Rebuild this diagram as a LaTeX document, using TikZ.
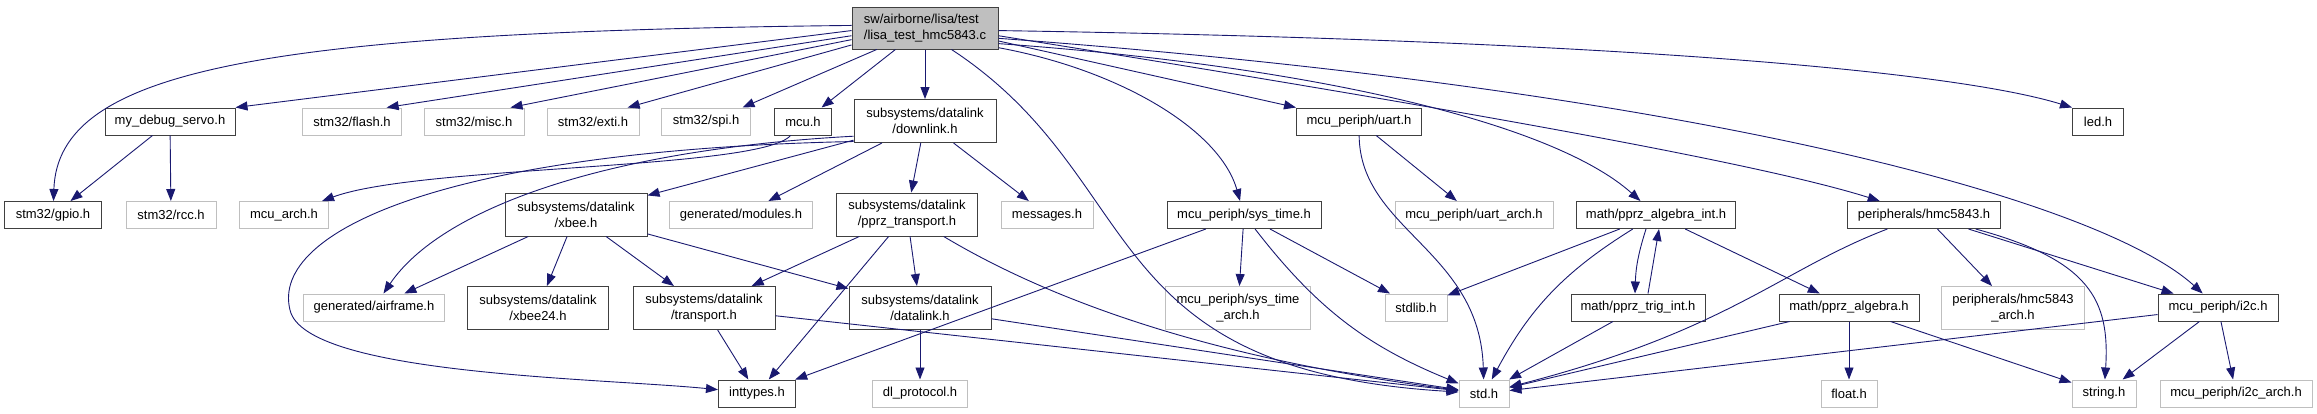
\documentclass[tikz,border=0pt]{standalone}
\usepackage{fontspec}
\setmainfont{Liberation Sans}
\usetikzlibrary{arrows.meta}
\tikzset{>={Triangle[length=12pt,width=9pt]}}
\definecolor{edgeblue}{HTML}{191970}
\definecolor{docline}{HTML}{404040}
\definecolor{extline}{HTML}{BFBFBF}
\definecolor{rootfill}{HTML}{BFBFBF}
\tikzset{
  file/.style={rectangle, line width=1pt, minimum height=27pt, inner xsep=4pt, inner ysep=2pt,
    font=\fontsize{13}{16}\selectfont, align=center},
  doc/.style={file, draw=docline},
  ext/.style={file, draw=extline},
  tall/.style={minimum height=43pt},
  inc/.style={->, edgeblue, line width=0.9pt},
}

\begin{document}
\begin{tikzpicture}[x=1pt,y=-1pt]
  \useasboundingbox (0,0) rectangle (2317,413);

  % root file
  \node[doc, fill=rootfill, align=left, minimum width=146pt, minimum height=42pt] (root) at (925,28) {sw/airborne/lisa/test\\/lisa\_test\_hmc5843.c};

  % first level
  \node[doc, minimum width=130pt] (myservo) at (170,121.5) {my\_debug\_servo.h};
  \node[ext, minimum width=99pt] (flash) at (352,121.5) {stm32/flash.h};
  \node[ext, minimum width=100pt] (misc) at (474,121.5) {stm32/misc.h};
  \node[ext, minimum width=92pt] (exti) at (593,121.5) {stm32/exti.h};
  \node[ext, minimum width=89pt] (spi) at (706,121.5) {stm32/spi.h};
  \node[doc, minimum width=57pt] (mcu) at (803,121.5) {mcu.h};
  \node[doc, tall, minimum width=142pt] (downlink) at (925,121) {subsystems/datalink\\/downlink.h};
  \node[doc, minimum width=125pt] (uart) at (1359,121.5) {mcu\_periph/uart.h};
  \node[doc, minimum width=51pt] (led) at (2098,121.5) {led.h};

  % second level
  \node[doc, minimum width=97pt] (gpio) at (53,215) {stm32/gpio.h};
  \node[ext, minimum width=90pt] (rcc) at (171,215) {stm32/rcc.h};
  \node[ext, minimum width=89pt] (mcuarch) at (284,215) {mcu\_arch.h};
  \node[doc, tall, minimum width=142pt] (xbee) at (576,214.5) {subsystems/datalink\\/xbee.h};
  \node[ext, minimum width=143pt] (modules) at (741,215) {generated/modules.h};
  \node[doc, tall, minimum width=141pt] (pprztrans) at (907,214.5) {subsystems/datalink\\/pprz\_transport.h};
  \node[ext, minimum width=92pt] (messages) at (1047,215) {messages.h};
  \node[doc, minimum width=154pt] (systime) at (1244,215) {mcu\_periph/sys\_time.h};
  \node[ext, minimum width=158pt] (uartarch) at (1474,215) {mcu\_periph/uart\_arch.h};
  \node[doc, minimum width=159pt] (algint) at (1656,215) {math/pprz\_algebra\_int.h};
  \node[doc, minimum width=153pt] (hmc) at (1924,215) {peripherals/hmc5843.h};

  % third level
  \node[ext, minimum width=141pt] (airframe) at (374,307.5) {generated/airframe.h};
  \node[doc, tall, minimum width=141pt] (xbee24) at (538,308) {subsystems/datalink\\/xbee24.h};
  \node[doc, tall, minimum width=142pt] (transport) at (704,308) {subsystems/datalink\\/transport.h};
  \node[doc, tall, minimum width=142pt] (datalink) at (920,308) {subsystems/datalink\\/datalink.h};
  \node[ext, tall, minimum width=145pt] (systimearch) at (1238,308) {mcu\_periph/sys\_time\\\_arch.h};
  \node[ext, minimum width=62pt] (stdlib) at (1416,307.5) {stdlib.h};
  \node[doc, minimum width=134pt] (trigint) at (1638,307.5) {math/pprz\_trig\_int.h};
  \node[doc, minimum width=140pt] (algebra) at (1849,307.5) {math/pprz\_algebra.h};
  \node[ext, tall, minimum width=143pt] (hmcarch) at (2013,308) {peripherals/hmc5843\\\_arch.h};
  \node[doc, minimum width=120pt] (i2c) at (2218,307.5) {mcu\_periph/i2c.h};

  % fourth level
  \node[doc, minimum width=77pt] (inttypes) at (757,393.5) {inttypes.h};
  \node[ext, minimum width=95pt] (dlproto) at (920,393.5) {dl\_protocol.h};
  \node[ext, minimum width=50pt] (std) at (1484,393.5) {std.h};
  \node[ext, minimum width=56pt] (float) at (1849,393.5) {float.h};
  \node[ext, minimum width=64pt] (string) at (2104,393.5) {string.h};
  \node[ext, minimum width=152pt] (i2carch) at (2236,393.5) {mcu\_periph/i2c\_arch.h};

  % includes of the root file
  \draw[inc] (root.178) .. controls (260,32) and (58,70) .. (gpio);
  \draw[inc] (root.182) -- (myservo.north east);
  \draw[inc] (root.186) -- (flash.22);
  \draw[inc] (root.189) -- (misc.21);
  \draw[inc] (root.193) -- (exti.22);
  \draw[inc] (root.204) -- (spi.21);
  \draw[inc] (root.216) -- (mcu.37);
  \draw[inc] (root.south) -- (downlink.north);
  \draw[inc] (root.-39) .. controls (1150,180) and (1090,370) .. (std);
  \draw[inc] (root.-15) .. controls (1120,70) and (1220,130) .. (systime);
  \draw[inc] (root.-10) -- (uart.north west);
  \draw[inc] (root.-12) .. controls (1300,65) and (1550,120) .. (algint);
  \draw[inc] (root.-6) .. controls (1400,100) and (1750,160) .. (hmc);
  \draw[inc] (root.-8) .. controls (1700,90) and (2100,200) .. (i2c);
  \draw[inc] (root.-2) .. controls (1600,40) and (1950,70) .. (led.north west);

  % first level includes
  \draw[inc] (myservo) -- (gpio);
  \draw[inc] (myservo) -- (rcc);
  \draw[inc] (mcu) .. controls (760,170) and (420,165) .. (mcuarch);
  \draw[inc] (downlink.192) .. controls (600,150) and (440,210) .. (airframe);
  \draw[inc] (downlink.196) .. controls (450,150) and (270,230) .. (290,310)
    .. controls (305,375) and (600,378) .. (inttypes);
  \draw[inc] (downlink) -- (xbee);
  \draw[inc] (downlink) -- (modules);
  \draw[inc] (downlink) -- (pprztrans);
  \draw[inc] (downlink) -- (messages);
  \draw[inc] (uart) .. controls (1360,230) and (1480,250) .. (std);
  \draw[inc] (uart) -- (uartarch);

  % second level includes
  \draw[inc] (xbee) -- (airframe);
  \draw[inc] (xbee) -- (xbee24);
  \draw[inc] (xbee) -- (transport);
  \draw[inc] (xbee) -- (datalink);
  \draw[inc] (pprztrans) -- (transport);
  \draw[inc] (pprztrans) -- (inttypes);
  \draw[inc] (pprztrans) -- (datalink);
  \draw[inc] (pprztrans) .. controls (1100,330) and (1300,370) .. (std);
  \draw[inc] (systime) -- (inttypes);
  \draw[inc] (systime) -- (systimearch);
  \draw[inc] (systime) to[bend right=15] (std);
  \draw[inc] (systime) -- (stdlib);
  \draw[inc] (algint) -- (stdlib);
  \draw[inc] (algint) to[bend right=15] (std);
  \draw[inc] ([xshift=-10pt]algint.south) to[bend right=8] ([xshift=-3pt]trigint.north);
  \draw[inc] (algint) -- (algebra);
  \draw[inc] (hmc) .. controls (1780,270) and (1730,330) .. (std);
  \draw[inc] (hmc) -- (hmcarch);
  \draw[inc] (hmc) .. controls (2090,260) and (2110,300) .. (string);
  \draw[inc] (hmc) -- (i2c);

  % third level includes
  \draw[inc] (transport) -- (inttypes);
  \draw[inc] (transport) -- (std);
  \draw[inc] (datalink) -- (dlproto);
  \draw[inc] (datalink) -- (std);
  \draw[inc] ([xshift=10pt]trigint.north) -- ([xshift=3pt]algint.south);
  \draw[inc] (trigint) -- (std);
  \draw[inc] (algebra) -- (std);
  \draw[inc] (algebra) -- (float);
  \draw[inc] (algebra) -- (string);
  \draw[inc] (i2c) -- (std);
  \draw[inc] (i2c) -- (string);
  \draw[inc] (i2c) -- (i2carch);
\end{tikzpicture}
\end{document}
